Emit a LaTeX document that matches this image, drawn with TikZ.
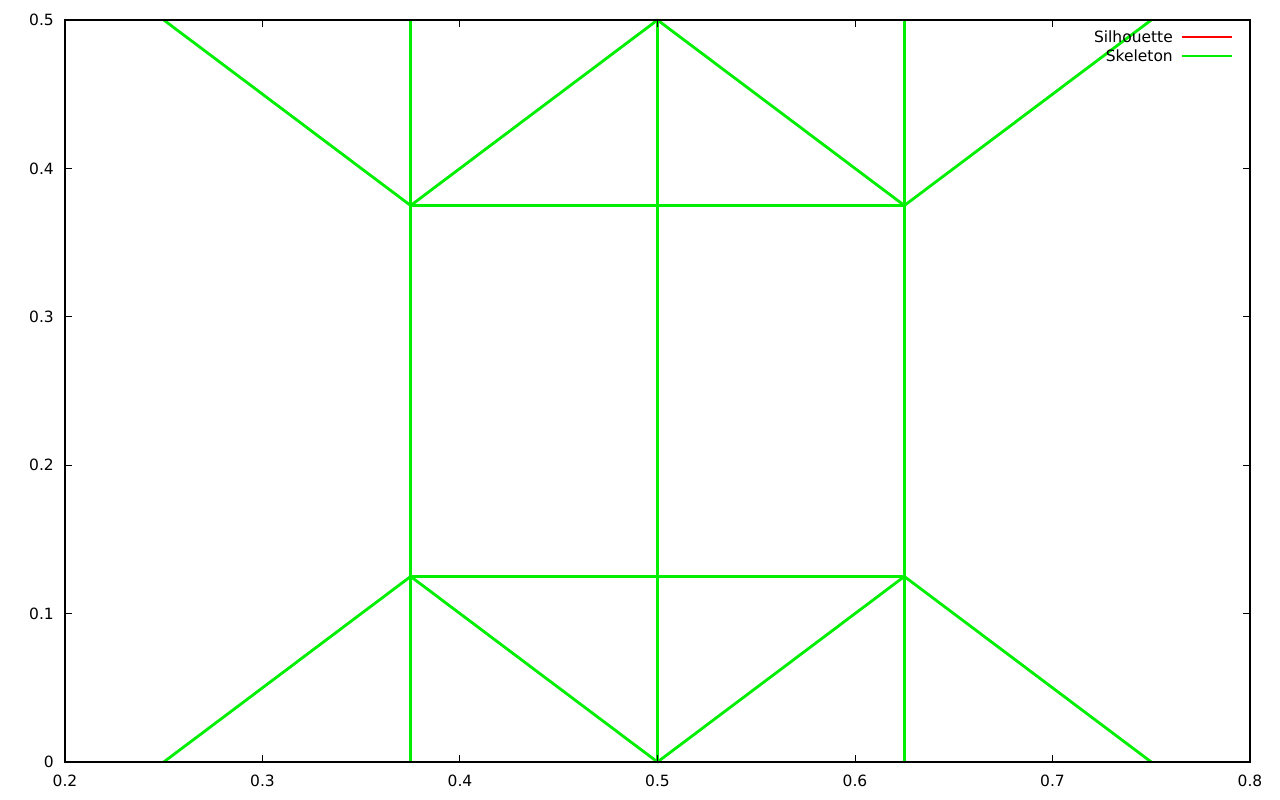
\documentclass[tikz,border=0pt]{standalone}
\usepackage{fontspec}
\setmainfont{DejaVu Sans}
\begin{document}
\begin{tikzpicture}[x=1pt,y=1pt,
  skel/.style={draw={rgb,255:red,0;green,238;blue,0}, line width=2.8pt, line join=round},
  axis/.style={draw=black, line width=1.1pt},
  tick/.style={draw=black, line width=1pt},
  lbl/.style={font=\fontsize{15.5}{17}\selectfont, inner sep=0pt}]
\useasboundingbox (0,0) rectangle (1280,800);
\fill[white] (0,0) rectangle (1280,800);
\begin{scope}[shift={(-330pt,38pt)}, x=1975pt, y=1484pt]
  % skeleton vertices
  \coordinate (tl) at (0.25,0.5);
  \coordinate (ta) at (0.375,0.5);
  \coordinate (tm) at (0.5,0.5);
  \coordinate (tb) at (0.625,0.5);
  \coordinate (tr) at (0.75,0.5);
  \coordinate (ua) at (0.375,0.375);
  \coordinate (ub) at (0.625,0.375);
  \coordinate (la) at (0.375,0.125);
  \coordinate (lb) at (0.625,0.125);
  \coordinate (bl) at (0.25,0);
  \coordinate (ba) at (0.375,0);
  \coordinate (bm) at (0.5,0);
  \coordinate (bb) at (0.625,0);
  \coordinate (br) at (0.75,0);
  % skeleton edges
  \path[skel] (tl) -- (tr);
  \path[skel] (bl) -- (br);
  \path[skel] (tl) -- (ua) -- (tm) -- (ub) -- (tr);
  \path[skel] (ua) -- (ub);
  \path[skel] (bl) -- (la) -- (bm) -- (lb) -- (br);
  \path[skel] (la) -- (lb);
  \path[skel] (ta) -- (ba);
  \path[skel] (tm) -- (bm);
  \path[skel] (tb) -- (bb);
  % frame
  \coordinate (f0) at (0.2,0);
  \coordinate (f1) at (0.8,0.5);
  % ticks
  \foreach \v/\t in {0.2/0.2,0.3/0.3,0.4/0.4,0.5/0.5,0.6/0.6,0.7/0.7,0.8/0.8} {
    \draw[tick] (\v,0) -- ++(0,7pt);
    \draw[tick] (\v,0.5) -- ++(0,-7pt);
    \node[lbl, anchor=center] (xl\t) at ([yshift=-19pt]\v,0) {\t};
  }
  \foreach \v/\t in {0/0,0.1/0.1,0.2/0.2,0.3/0.3,0.4/0.4,0.5/0.5} {
    \draw[tick] (0.2,\v) -- ++(7pt,0);
    \draw[tick] (0.8,\v) -- ++(-7pt,0);
    \node[lbl, anchor=east] (yl\t) at ([xshift=-11pt]0.2,\v) {\t};
  }
  \draw[axis] (f0) rectangle (f1);
\end{scope}
% legend
\node[lbl, anchor=east] (ls) at (1173,763) {Silhouette};
\node[lbl, anchor=east] (lk) at (1173,744) {Skeleton};
\coordinate (rs0) at (1182,763); \coordinate (rs1) at (1232,763);
\coordinate (gs0) at (1182,744); \coordinate (gs1) at (1232,744);
\draw[red, line width=2.8pt] (rs0) -- (rs1);
\draw[skel] (gs0) -- (gs1);
\end{tikzpicture}
\end{document}
